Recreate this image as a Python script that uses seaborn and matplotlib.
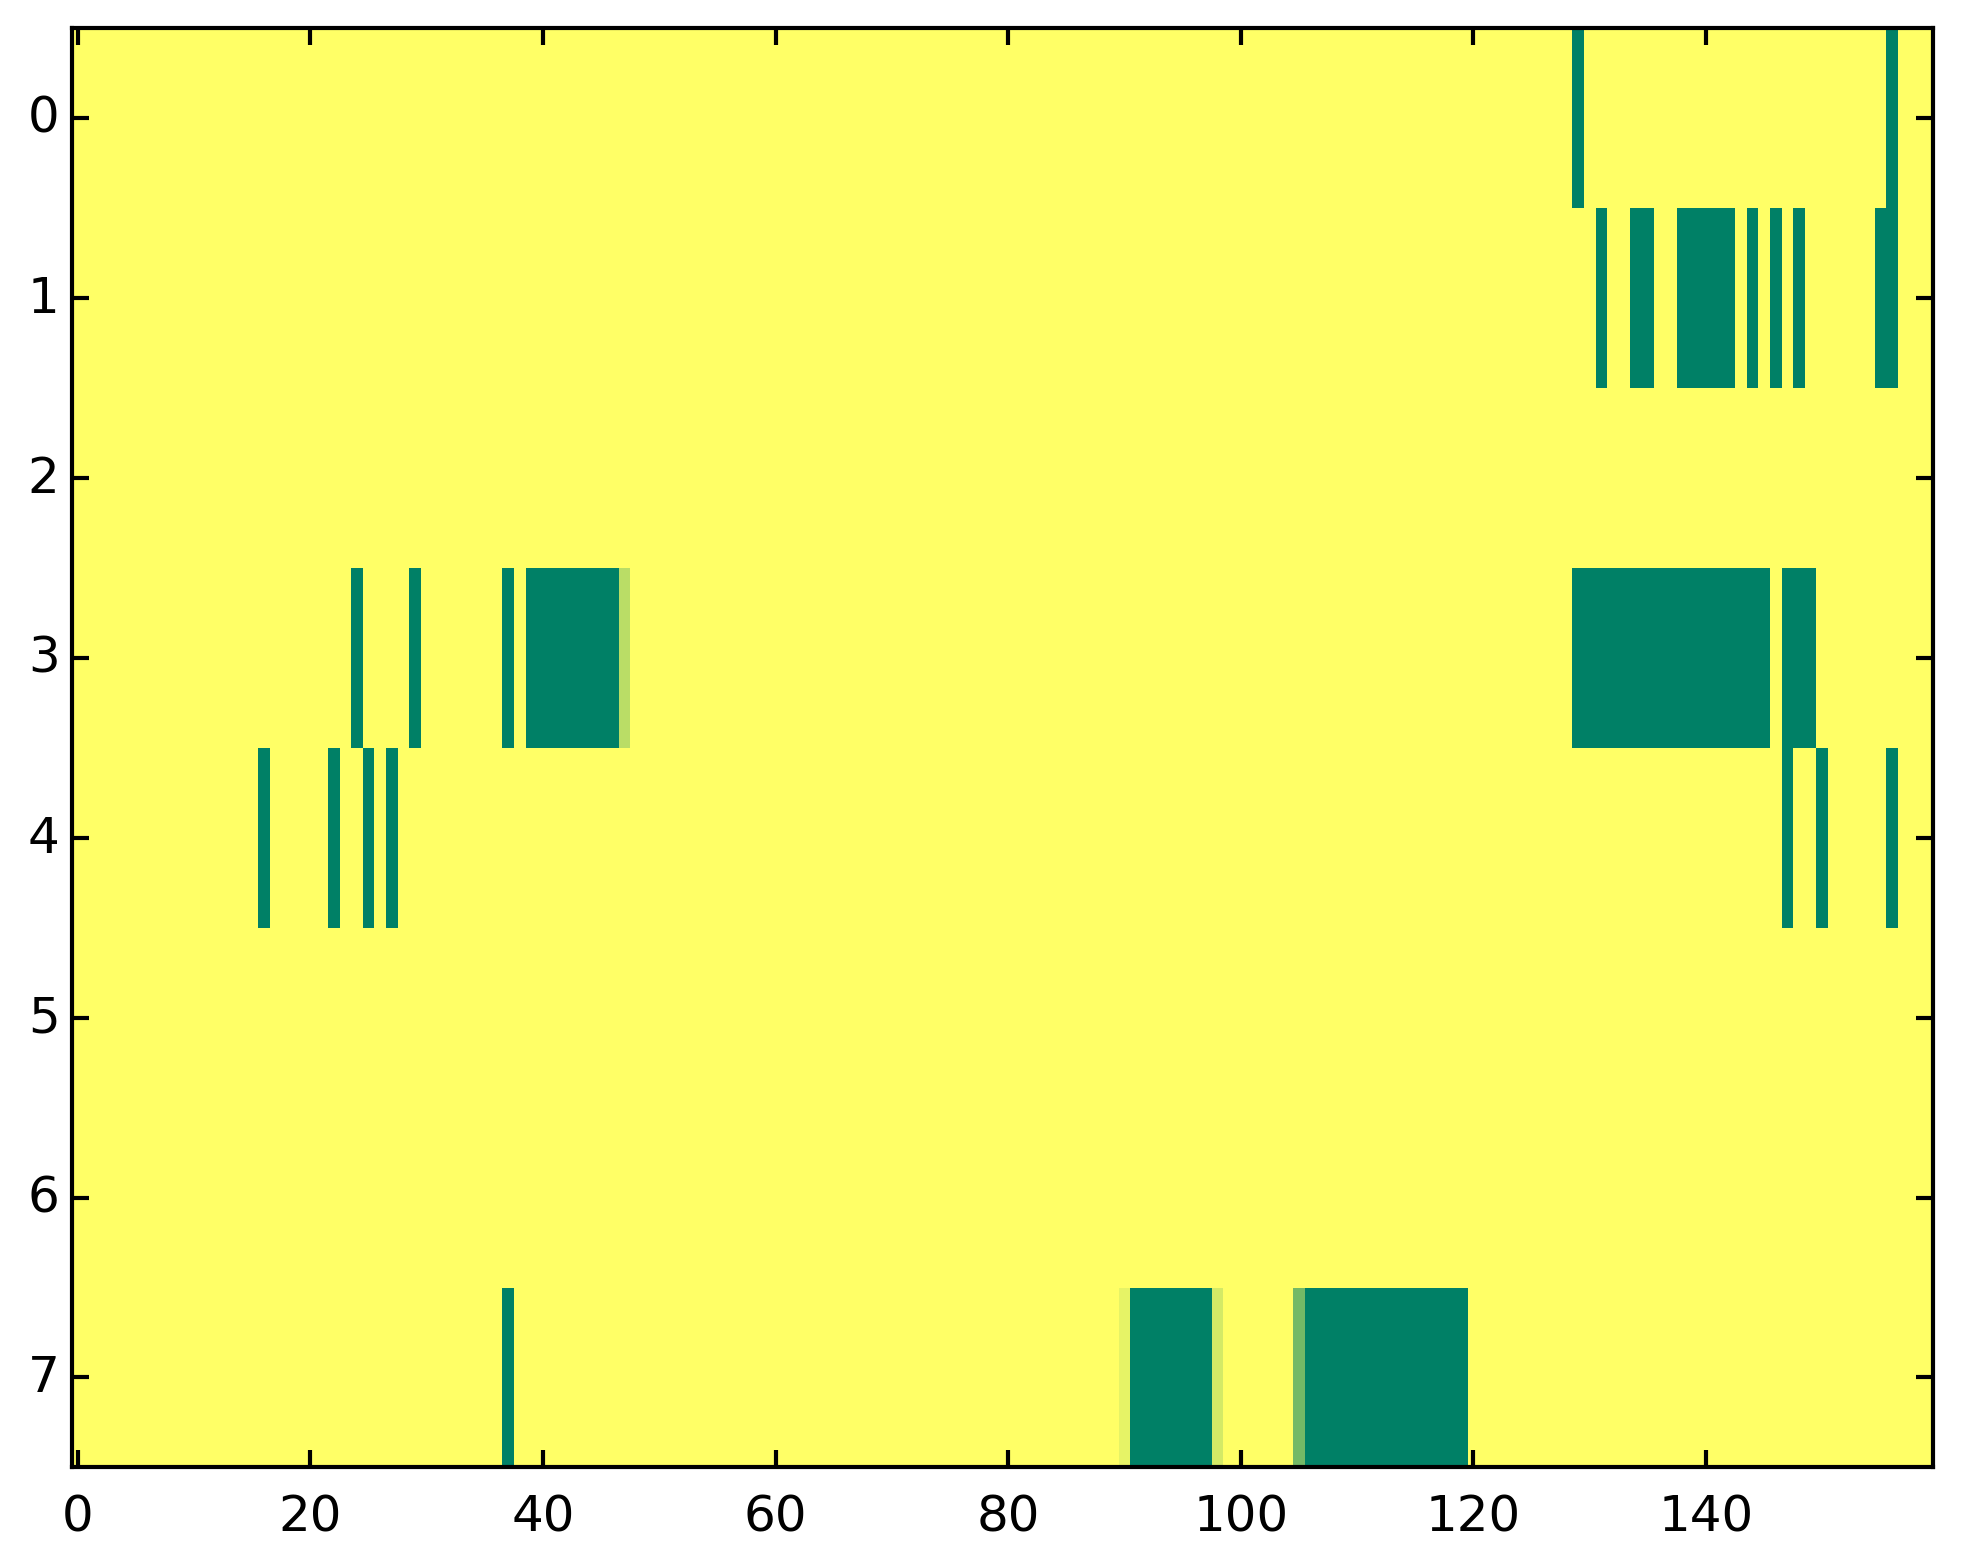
import numpy as np
import matplotlib
matplotlib.use('Agg')
import matplotlib.pyplot as plt
import seaborn as sns

# grid size
n_rows = 8
n_cols = 160

# columns fully "on" (value 1) per row
row0_on = [129, 156]
row1_on = [131, 134, 135, 138, 139, 140, 141, 142, 144, 146, 148, 155, 156]
row2_on = []
row3_on = [24, 29, 37, 39, 40, 41, 42, 43, 44, 45, 46,
           129, 130, 131, 132, 133, 134, 135, 136, 137, 138, 139, 140, 141,
           142, 143, 144, 145, 147, 148, 149]
row4_on = [16, 22, 25, 27, 147, 150, 156]
row5_on = []
row6_on = []
row7_on = [37, 91, 92, 93, 94, 95, 96, 97,
           106, 107, 108, 109, 110, 111, 112, 113, 114, 115, 116, 117, 118, 119]

# partial cells: (row, col, value)
partial_rows = [3, 7, 7, 7]
partial_cols = [47, 90, 98, 105]
partial_vals = [0.27, 0.10, 0.17, 0.55]

xtick_vals = [0, 20, 40, 60, 80, 100, 120, 140]

rows_on = [row0_on, row1_on, row2_on, row3_on, row4_on, row5_on, row6_on, row7_on]
grid = np.zeros((n_rows, n_cols))
for r, cols in enumerate(rows_on):
    grid[r, cols] = 1.0
for r, c, v in zip(partial_rows, partial_cols, partial_vals):
    grid[r, c] = v

plt.style.use('classic')
fig = plt.figure(figsize=(1963 / 300, 1564 / 300), facecolor='white')
ax = fig.add_axes([0.0367, 0.0611, 0.9479, 0.9204])

sns.heatmap(grid, cmap='summer_r', vmin=0, vmax=1, cbar=False, ax=ax)

# axis ticks in data coordinates like imshow
ax.set_xticks([v + 0.5 for v in xtick_vals])
ax.set_xticklabels([str(v) for v in xtick_vals], rotation=0, fontsize=12)
ax.set_yticks([r + 0.5 for r in range(n_rows)])
ax.set_yticklabels([str(r) for r in range(n_rows)], rotation=0, fontsize=12)
ax.set_xlim(0, n_cols)
ax.set_ylim(n_rows, 0)
ax.tick_params(direction='in', length=4, width=1, top=True, right=True,
               labelsize=12, colors='black')
ax.tick_params(axis='x', pad=6)
ax.tick_params(axis='y', pad=3)
for s in ax.spines.values():
    s.set_visible(True)
    s.set_linewidth(1)
    s.set_color('black')
ax.set_xlabel('')
ax.set_ylabel('')

fig.savefig('out.png', dpi=300, facecolor='white')
